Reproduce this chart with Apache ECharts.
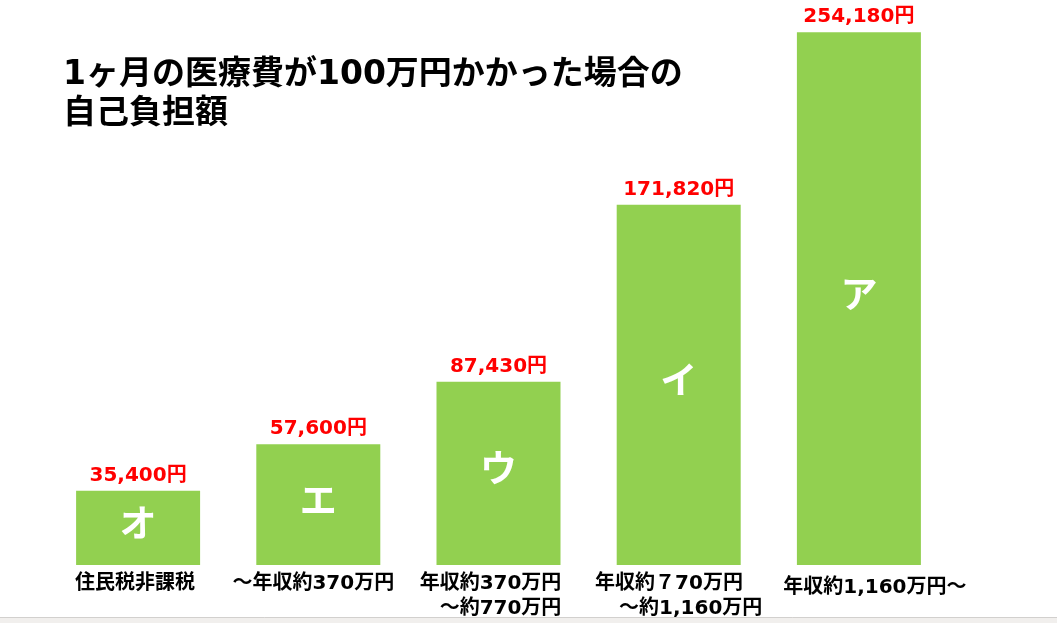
<!DOCTYPE html>
<html>
<head>
<meta charset="utf-8">
<script src="https://cdn.jsdelivr.net/npm/echarts@6/dist/echarts.min.js"></script>
<style>
html,body{margin:0;padding:0;background:#fff;}
#chart{width:1057px;height:623px;}
</style>
</head>
<body>
<div id="chart"></div>
<script>
const titleText = '1ヶ月の医療費が100万円かかった場合の\n自己負担額';
const categories = ['住民税非課税', '～年収約370万円', '年収約370万円\n～約770万円', '年収約７70万円\n～約1,160万円', '年収約1,160万円～'];
const values = [35400, 57600, 87430, 171820, 254180];
const letters = ['オ', 'エ', 'ウ', 'イ', 'ア'];

const FONT = "'DejaVu Sans', 'Noto Sans CJK JP', sans-serif";
const GREEN = '#92D050';
const RED = '#FF0000';

const baseRich = { fontSize: 20, fontWeight: 'bold', fontFamily: FONT, color: '#000', lineHeight: 25 };
const rich = {
  c0: Object.assign({}, baseRich, { padding: [0, 6, 0, 0] }),
  c1: Object.assign({}, baseRich, { padding: [0, 10, 0, 0] }),
  c2: Object.assign({}, baseRich, { align: 'right', padding: [0, 16, 0, 0] }),
  c3a: Object.assign({}, baseRich, { align: 'left' }),
  c3b: Object.assign({}, baseRich, { align: 'right', padding: [0, 0, 0, 24] }),
  c4: Object.assign({}, baseRich, { padding: [8, 0, 0, 32] })
};
const styleKeys = [['c0'], ['c1'], ['c2', 'c2'], ['c3a', 'c3b'], ['c4']];

const chart = echarts.init(document.getElementById('chart'));
chart.setOption({
  backgroundColor: '#fff',
  animation: false,
  title: {
    text: titleText,
    left: 63,
    top: 56,
    padding: 0,
    textStyle: { fontSize: 33, fontWeight: 'bold', fontFamily: FONT, color: '#000', lineHeight: 39 }
  },
  grid: { left: 48, right: 108, top: 20, bottom: 58, containLabel: false, outerBoundsMode: 'none' },
  xAxis: {
    type: 'category',
    data: categories,
    axisLine: { show: false },
    axisTick: { show: false },
    axisLabel: {
      margin: 6,
      interval: 0,
      formatter: function (val, idx) {
        const keys = styleKeys[idx];
        return val.split('\n').map(function (line, i) {
          return '{' + keys[Math.min(i, keys.length - 1)] + '|' + line + '}';
        }).join('\n');
      },
      rich: rich
    }
  },
  yAxis: { type: 'value', min: 0, max: 260000, show: false },
  series: [
    {
      type: 'bar',
      data: values,
      barWidth: 124,
      itemStyle: { color: GREEN },
      label: {
        show: true,
        position: 'top',
        distance: 5,
        color: RED,
        fontSize: 20,
        fontWeight: 'bold',
        fontFamily: FONT,
        formatter: function (p) { return p.value.toLocaleString('en-US') + '円'; }
      }
    },
    {
      type: 'bar',
      data: values,
      barWidth: 124,
      barGap: '-100%',
      itemStyle: { color: 'rgba(0,0,0,0)' },
      label: {
        show: true,
        position: 'inside',
        offset: [0, -5],
        color: '#fff',
        fontSize: 37,
        fontWeight: 'bold',
        fontFamily: "'Noto Sans CJK JP', sans-serif",
        formatter: function (p) { return letters[p.dataIndex]; }
      }
    }
  ],
  graphic: [
    { type: 'rect', left: 0, top: 617, shape: { width: 1057, height: 6 }, style: { fill: '#f1efed' }, silent: true },
    { type: 'line', shape: { x1: 0, y1: 617.5, x2: 1057, y2: 617.5 }, style: { stroke: '#d2d0ce', lineWidth: 1 }, silent: true }
  ]
});
</script>
</body>
</html>
